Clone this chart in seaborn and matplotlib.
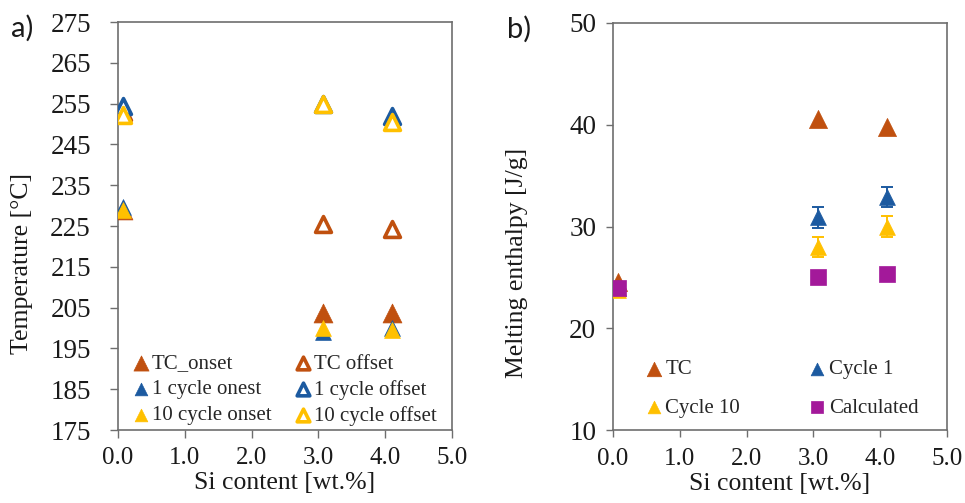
import numpy as np
import pandas as pd
import matplotlib
matplotlib.use("Agg")
import matplotlib.pyplot as plt
import seaborn as sns

# ---------------- data ----------------
si_content = [0.07, 3.07, 4.1]

# panel a) temperatures [°C]
tc_onset = [229.0, 203.6, 203.6]
tc_offset = [253.0, 225.5, 224.3]
c1_onset = [229.6, 198.9, 200.0]
c1_offset = [254.3, 255.0, 251.9]
c10_onset = [229.0, 200.0, 199.4]
c10_offset = [252.3, 255.0, 250.5]

# panel b) melting enthalpy [J/g]
h_tc = [24.5, 40.6, 39.8]
h_c1 = [24.0, 30.9, 32.9]
h_c1_err = [0.3, 1.0, 1.0]
h_c10 = [23.8, 28.0, 30.0]
h_c10_err = [0.3, 1.0, 1.0]
h_calc = [24.0, 25.0, 25.3]

x_ticks = [0.0, 1.0, 2.0, 3.0, 4.0, 5.0]
x_ticklabels = ["0.0", "1.0", "2.0", "3.0", "4.0", "5.0"]
ya_ticks = list(range(175, 276, 10))
yb_ticks = [10, 20, 30, 40, 50]

C_TC = "#C0500F"
C_BLUE = "#1C5AA0"
C_YEL = "#FFC000"
C_PUR = "#A3199A"

sns.set_theme(style="white")
plt.rcParams["font.family"] = ["Liberation Serif", "DejaVu Serif"]

fig = plt.figure(figsize=(9.65, 5.03), dpi=100)
axa = fig.add_axes([118 / 965, 73 / 503, 334 / 965, 408 / 503])
axb = fig.add_axes([613 / 965, 73 / 503, 334 / 965, 407 / 503])

spine_col = "#6E6E6E"
for ax in (axa, axb):
    for s in ax.spines.values():
        s.set_color(spine_col)
        s.set_linewidth(1.2)
    ax.grid(False)

# ---------------- panel a ----------------
series_a = [
    ("TC_onset", tc_onset, C_TC, True, 185),
    ("TC offset", tc_offset, C_TC, False, 130),
    ("1 cycle onest", c1_onset, C_BLUE, True, 130),
    ("1 cycle offset", c1_offset, C_BLUE, False, 130),
    ("10 cycle onset", c10_onset, C_YEL, True, 130),
    ("10 cycle offset", c10_offset, C_YEL, False, 130),
]
for name, vals, col, filled, size in series_a:
    df = pd.DataFrame({"x": si_content, "y": vals})
    if filled:
        sns.scatterplot(data=df, x="x", y="y", ax=axa, marker="^", s=size,
                        color=col, edgecolor=col, linewidth=0.5, label=name, zorder=3)
    else:
        sns.scatterplot(data=df, x="x", y="y", ax=axa, marker="^", s=size,
                        facecolor="white", edgecolor=col, linewidth=2.6, label=name, zorder=3)

h, l = axa.get_legend_handles_labels()
order = ["TC_onset", "1 cycle onest", "10 cycle onset", "TC offset", "1 cycle offset", "10 cycle offset"]
hd = dict(zip(l, h))
axa.legend([hd[o] for o in order], order, ncol=2, frameon=False, loc="lower left",
           bbox_to_anchor=(0.03, 0.0), fontsize=15, handlelength=0.8, handletextpad=0.15,
           columnspacing=1.1, labelspacing=0.3, markerscale=0.8, borderaxespad=0.0,
           borderpad=0.2)

axa.set_xlim(0, 5)
axa.set_ylim(175, 275)
axa.set_xticks(x_ticks)
axa.set_xticklabels(x_ticklabels)
axa.set_yticks(ya_ticks)
axa.tick_params(axis="both", which="major", direction="out", length=5.5, width=1,
                color=spine_col, labelcolor="#1a1a1a", left=True, bottom=True)
axa.tick_params(axis="y", pad=14, labelsize=19.5)
axa.tick_params(axis="x", pad=7, labelsize=18)
axa.set_xlabel("Si content [wt.%]", fontsize=18.5, color="#1a1a1a", labelpad=2)
axa.set_ylabel("Temperature [°C]", fontsize=18.5, color="#1a1a1a")
axa.yaxis.set_label_coords(-0.255, 0.407)

# ---------------- panel b ----------------
series_b = [
    ("TC", h_tc, None, C_TC, "^", 170),
    ("Cycle 1", h_c1, h_c1_err, C_BLUE, "^", 130),
    ("Cycle 10", h_c10, h_c10_err, C_YEL, "^", 130),
    ("Calculated", h_calc, None, C_PUR, "s", 135),
]
for name, vals, err, col, mk, size in series_b:
    if err is not None:
        axb.errorbar(si_content, vals, yerr=err, fmt="none", ecolor=col, elinewidth=1.4,
                     capsize=4.5, capthick=1.4, zorder=2)
    df = pd.DataFrame({"x": si_content, "y": vals})
    sns.scatterplot(data=df, x="x", y="y", ax=axb, marker=mk, s=size,
                    color=col, edgecolor=col, linewidth=0.5, label=name, zorder=3)

h, l = axb.get_legend_handles_labels()
hd = dict(zip(l, h))
order_b = ["TC", "Cycle 10", "Cycle 1", "Calculated"]
axb.legend([hd[o] for o in order_b], order_b, ncol=2, frameon=False, loc="lower left",
           bbox_to_anchor=(0.085, 0.02), fontsize=15, handlelength=0.8, handletextpad=0.15,
           columnspacing=3.3, labelspacing=0.9, markerscale=0.8, borderaxespad=0.0,
           borderpad=0.2)

axb.set_xlim(0, 5)
axb.set_ylim(10, 50)
axb.set_xticks(x_ticks)
axb.set_xticklabels(x_ticklabels)
axb.set_yticks(yb_ticks)
axb.tick_params(axis="both", which="major", direction="out", length=5, width=1,
                color=spine_col, labelcolor="#1a1a1a", left=True, bottom=True)
axb.tick_params(axis="y", pad=7, labelsize=19.5)
axb.tick_params(axis="x", pad=8, labelsize=18)
axb.set_xlabel("Si content [wt.%]", fontsize=18.5, color="#1a1a1a", labelpad=2)
axb.set_ylabel("Melting enthalpy [J/g]", fontsize=18.5, color="#1a1a1a")
axb.yaxis.set_label_coords(-0.254, 0.41)

# panel letters
fig.text(11 / 965, 1 - 28 / 503, "a)", fontsize=21, family=["Lato", "DejaVu Sans"],
         va="center", ha="left", color="#1a1a1a")
fig.text(507 / 965, 1 - 29 / 503, "b)", fontsize=21, family=["Lato", "DejaVu Sans"],
         va="center", ha="left", color="#1a1a1a")

fig.savefig("out.png", dpi=100, facecolor="white")
